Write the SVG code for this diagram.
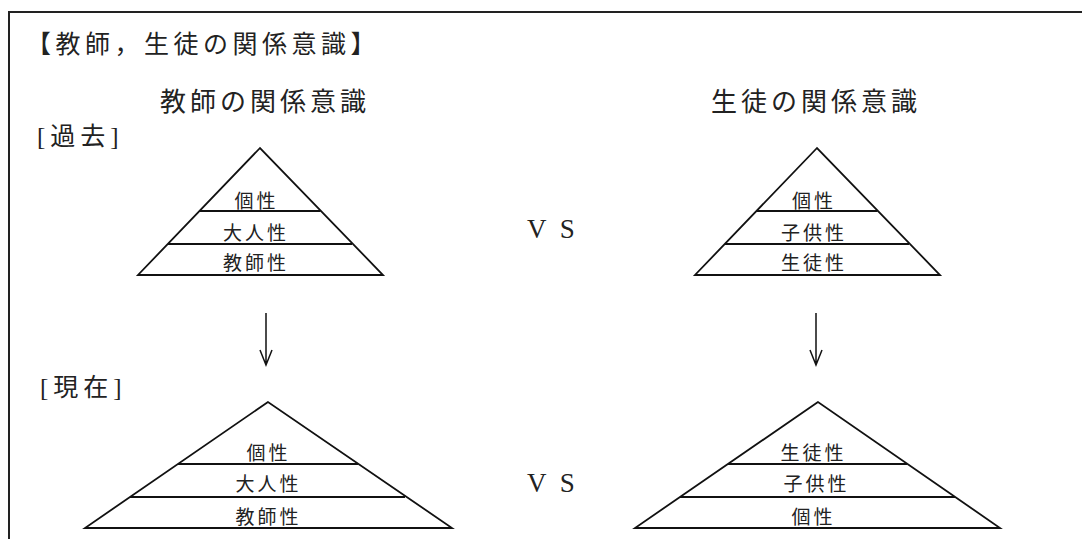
<svg xmlns="http://www.w3.org/2000/svg" width="1082" height="539" viewBox="0 0 1082 539">
<style>
  .frame{fill:none;stroke:#222;stroke-width:2}
  .tri{fill:none;stroke:#111;stroke-width:1.8;stroke-linejoin:miter}
  .band{stroke:#111;stroke-width:1.8}
  .arr{fill:none;stroke:#111;stroke-width:1.5}
  .title{font-family:"Noto Sans CJK JP",sans-serif;font-size:25px;letter-spacing:4.5px;fill:#222}
  .head{font-family:"Noto Sans CJK JP",sans-serif;font-size:26px;letter-spacing:4px;fill:#222}
  .period{font-family:"Liberation Serif","Noto Sans CJK JP",serif;font-size:25px;letter-spacing:5px;fill:#222}
  .lab{font-family:"Noto Sans CJK JP",sans-serif;font-size:19px;letter-spacing:3px;fill:#222}
  .vs{font-family:"Liberation Serif",serif;font-size:27px;letter-spacing:3.5px;fill:#222}
</style>
<rect width="1082" height="539" fill="#fff"/>
<path class="frame" d="M9 539 V12 H1082"/>
<g id="title"><text class="title" x="26" y="53">【教師，生徒の関係意識】</text></g>
<g id="teacher-header"><text class="head" x="160" y="111">教師の関係意識</text></g>
<g id="student-header"><text class="head" x="711" y="111">生徒の関係意識</text></g>
<g id="label-past"><text class="period" x="37" y="145">[過去]</text></g>
<g id="label-now"><text class="period" x="40" y="396">[現在]</text></g>

<g id="teacher-past">
  <path class="tri" d="M260 148 L138 275 L383 275 Z"/>
  <line class="band" x1="199.5" y1="211" x2="320.5" y2="211"/>
  <line class="band" x1="168" y1="244" x2="352" y2="244"/>
  <text class="lab" x="234.5" y="208">個性</text>
  <text class="lab" x="223" y="240">大人性</text>
  <text class="lab" x="223" y="270">教師性</text>
</g>
<g id="student-past">
  <path class="tri" d="M817 148 L695 275 L940 275 Z"/>
  <line class="band" x1="756.5" y1="211" x2="877.5" y2="211"/>
  <line class="band" x1="725" y1="244" x2="909" y2="244"/>
  <text class="lab" x="792" y="208">個性</text>
  <text class="lab" x="781" y="240">子供性</text>
  <text class="lab" x="781" y="270">生徒性</text>
</g>
<g id="teacher-now">
  <path class="tri" d="M268 402 L85 528 L452 528 Z"/>
  <line class="band" x1="178" y1="464" x2="358" y2="464"/>
  <line class="band" x1="130" y1="497" x2="405" y2="497"/>
  <text class="lab" x="246.5" y="460">個性</text>
  <text class="lab" x="235.5" y="491">大人性</text>
  <text class="lab" x="235.5" y="524">教師性</text>
</g>
<g id="student-now">
  <path class="tri" d="M818 402 L635 528 L1000 528 Z"/>
  <line class="band" x1="728" y1="464" x2="907" y2="464"/>
  <line class="band" x1="680" y1="497" x2="955" y2="497"/>
  <text class="lab" x="780.5" y="460">生徒性</text>
  <text class="lab" x="783.5" y="491">子供性</text>
  <text class="lab" x="791.5" y="524">個性</text>
</g>
<g id="vs-past"><text class="vs" x="527" y="238">V S</text></g>
<g id="vs-now"><text class="vs" x="527" y="492">V S</text></g>

<g id="connectors">
  <path class="arr" d="M266 313 V365 M260 350 L266 365 L272 350"/>
  <path class="arr" d="M816 313 V365 M810 350 L816 365 L822 350"/>
</g>
</svg>
